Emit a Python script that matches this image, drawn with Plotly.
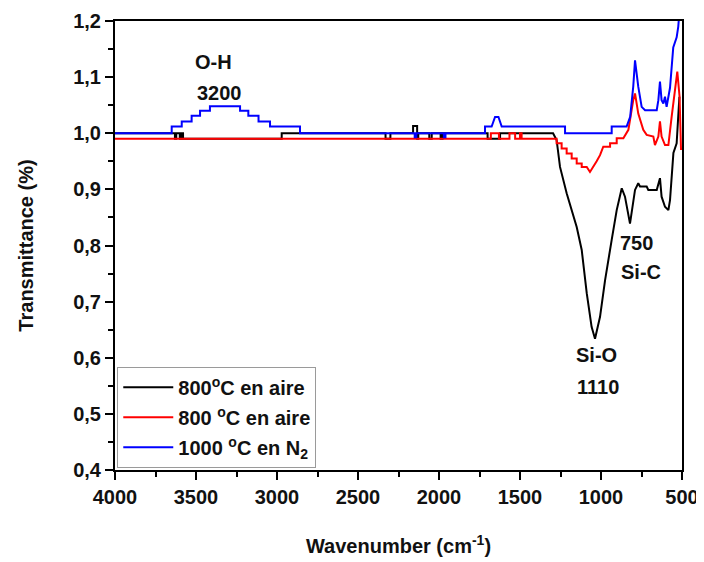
import plotly.graph_objects as go

# ---- data (wavenumber in cm-1, transmittance) ----
black_wn = [4000, 3630, 3630, 3622, 3622, 3600, 3600, 3590, 3590, 3580, 3580, 2971, 2971,
            2330, 2330, 2300, 2300, 2160, 2160, 2135, 2135, 2128, 2128, 2060, 2060, 2045, 2045,
            1990, 1990, 1978, 1978, 1700, 1700, 1623, 1623, 1296, 1274, 1253, 1212, 1181, 1150,
            1119, 1088, 1058, 1037, 1006, 975, 934, 903, 872, 852, 821, 790, 770, 759, 718, 708,
            656, 636, 626, 605, 584, 574, 553, 533, 516]
black_t = [1.0, 1.0, 0.99, 0.99, 1.0, 1.0, 0.99, 0.99, 1.0, 1.0, 0.99, 0.99, 1.0,
           1.0, 0.99, 0.99, 1.0, 1.0, 1.013, 1.013, 0.99, 0.99, 1.0, 1.0, 0.99, 0.99, 1.0,
           1.0, 0.99, 0.99, 1.0, 1.0, 0.99, 0.99, 1.0, 1.0, 0.988, 0.94, 0.893, 0.863, 0.833,
           0.792, 0.715, 0.655, 0.634, 0.673, 0.738, 0.81, 0.863, 0.902, 0.887, 0.839, 0.899, 0.911, 0.905, 0.905, 0.899,
           0.899, 0.92, 0.887, 0.869, 0.863, 0.881, 0.965, 0.982, 1.065]

red_wn = [4000, 1680, 1680, 1630, 1630, 1565, 1565, 1530, 1530, 1500, 1500, 1490, 1490,
          1274, 1274, 1243, 1243, 1212, 1212, 1181, 1181, 1150, 1150, 1119, 1119, 1088, 1068,
          1047, 1027, 1006, 986, 944, 944, 903, 903, 862, 831, 801, 790, 770, 739, 718, 677,
          667, 646, 636, 626, 605, 584, 564, 543, 529, 515, 506]
red_t = [0.99, 0.99, 1.0, 1.0, 0.99, 0.99, 1.0, 1.0, 0.99, 0.99, 1.0, 1.0, 0.99,
         0.99, 0.982, 0.982, 0.973, 0.973, 0.964, 0.964, 0.955, 0.955, 0.946, 0.946, 0.94, 0.94, 0.931,
         0.94, 0.95, 0.961, 0.976, 0.976, 0.982, 0.982, 0.991, 0.991, 1.006, 1.059, 1.071, 1.035, 1.006, 0.997, 0.994,
         0.979, 0.994, 1.021, 0.994, 0.979, 0.979, 1.029, 1.083, 1.11, 1.065, 0.97]

blue_wn = [4000, 3650, 3650, 3588, 3588, 3527, 3527, 3475, 3475, 3414, 3414, 3228, 3228,
           3177, 3177, 3114, 3114, 3043, 3043, 2858, 2858, 2150, 2150, 2140, 2140, 1970, 1970,
           1960, 1960, 1716, 1716, 1675, 1654, 1633, 1613, 1222, 1222, 934, 934, 842, 820, 801,
           790, 770, 749, 728, 656, 646, 636, 626, 615, 605, 595, 574, 554, 533, 523, 515]
blue_t = [1.0, 1.0, 1.012, 1.012, 1.021, 1.021, 1.031, 1.031, 1.04, 1.04, 1.048, 1.048, 1.04,
          1.04, 1.031, 1.031, 1.021, 1.021, 1.012, 1.012, 1.0, 1.0, 0.993, 0.993, 1.0, 1.0, 0.993,
          0.993, 1.0, 1.0, 1.012, 1.012, 1.029, 1.029, 1.012, 1.012, 1.0, 1.0, 1.012, 1.012, 1.029, 1.083,
          1.13, 1.083, 1.047, 1.041, 1.041, 1.059, 1.092, 1.059, 1.053, 1.065, 1.047, 1.081, 1.153, 1.171, 1.19, 1.22]

series_names = ["800<sup>o</sup>C en aire", "800 <sup>o</sup>C en aire", "1000 <sup>o</sup>C en N<sub>2</sub>"]
x_tickvals = [4000, 3500, 3000, 2500, 2000, 1500, 1000, 500]
x_ticktext = ["4000", "3500", "3000", "2500", "2000", "1500", "1000", "500"]
y_tickvals = [0.4, 0.5, 0.6, 0.7, 0.8, 0.9, 1.0, 1.1, 1.2]
y_ticktext = ["0,4", "0,5", "0,6", "0,7", "0,8", "0,9", "1,0", "1,1", "1,2"]

ann_text = ["O-H", "3200", "750", "Si-C", "Si-O", "1110"]
ann_x = [3389, 3352, 780, 753, 1025, 1019]
ann_y = [1.127, 1.072, 0.804, 0.753, 0.605, 0.548]

FONT = "Liberation Sans, Arial, sans-serif"

fig = go.Figure()
for i, (xs, ys, col) in enumerate([(black_wn, black_t, "#000000"),
                                   (red_wn, red_t, "#ff0000"),
                                   (blue_wn, blue_t, "#0000ff")]):
    fig.add_trace(go.Scatter(x=xs, y=ys, mode="lines", name="<b>" + series_names[i] + "</b>",
                             line=dict(color=col, width=2), legendgroup=str(i)))

for t, x, y in zip(ann_text, ann_x, ann_y):
    fig.add_annotation(x=x, y=y, text="<b>" + t + "</b>", showarrow=False,
                       font=dict(family=FONT, size=20, color="#111"), xanchor="center", yanchor="middle")

# page body has an 8px margin: size the figure so the plot frame lands where the reference has it
fig.update_layout(
    width=696, height=554,
    margin=dict(l=107, r=22, t=13, b=92),
    paper_bgcolor="white", plot_bgcolor="white",
    font=dict(family=FONT, color="#111"),
    showlegend=True,
    legend=dict(x=0.004, y=0.23, xanchor="left", yanchor="top",
                bgcolor="white", bordercolor="#9a9a9a", borderwidth=1,
                font=dict(family=FONT, size=20, color="#111"),
                tracegroupgap=1, itemwidth=50),
    xaxis=dict(range=[4000, 500], tickvals=x_tickvals, ticktext=["<b>" + s + "</b>" for s in x_ticktext],
               ticks="outside", ticklen=8, tickwidth=2, tickcolor="black",
               showline=True, linewidth=2, linecolor="black", mirror=True,
               showgrid=False, zeroline=False,
               minor=dict(dtick=250, ticks="outside", ticklen=5, tickwidth=2, tickcolor="black", showgrid=False),
               tickfont=dict(family=FONT, size=20, color="#111"),
               title=dict(text="<b>Wavenumber (cm<sup>-1</sup>)</b>", font=dict(family=FONT, size=20, color="#111"),
                          standoff=32),
               automargin=False),
    yaxis=dict(range=[0.4, 1.2], tickvals=y_tickvals, ticktext=["<b>" + s + "</b>" for s in y_ticktext],
               ticks="outside", ticklen=8, tickwidth=2, tickcolor="black",
               showline=True, linewidth=2, linecolor="black", mirror=True,
               showgrid=False, zeroline=False,
               minor=dict(dtick=0.05, ticks="outside", ticklen=5, tickwidth=2, tickcolor="black", showgrid=False),
               tickfont=dict(family=FONT, size=20, color="#111"),
               title=dict(text="<b>Transmittance (%)</b>", font=dict(family=FONT, size=20, color="#111"),
                          standoff=34),
               automargin=False),
)

fig.write_html("out.html")
